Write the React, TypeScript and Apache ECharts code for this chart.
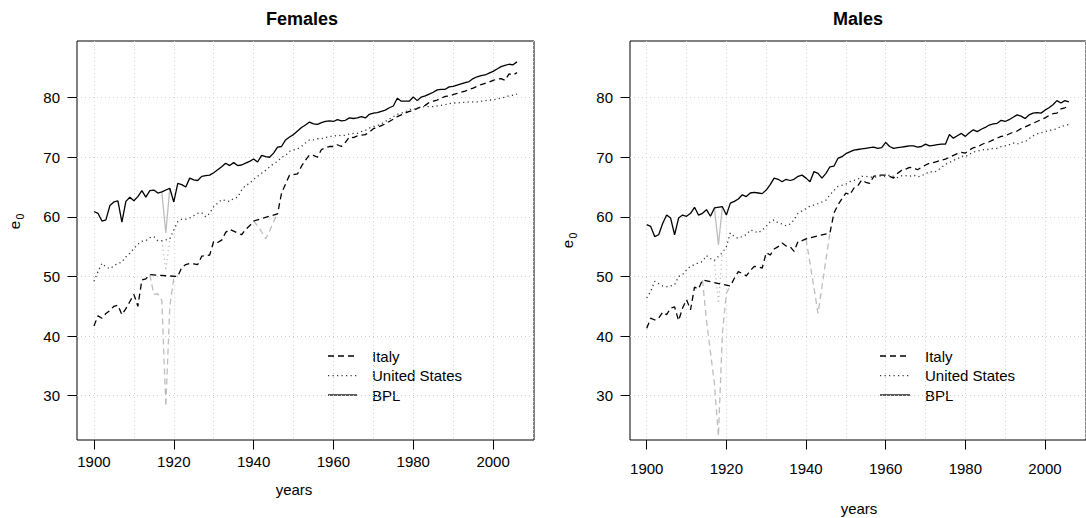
import React, { useEffect, useRef } from "react";
import * as echarts from "echarts";

// ---------- data (life expectancy at birth, 1900-2006) ----------
const startYear = 1900;

const femaleItaly = [
  41.7, 43.4, 43.0, 43.8, 44.3, 45.0, 45.2, 43.6, 44.6, 45.8,
  47.0, 45.0, 49.4, 49.6, 50.3, 47.0, 47.1, 46.0, 28.2, 45.0,
  49.7, 50.0, 51.5, 52.0, 52.2, 52.1, 52.0, 53.4, 53.5, 53.6,
  55.9, 55.7, 56.1, 57.4, 57.9, 57.6, 57.3, 57.0, 57.9, 58.5,
  59.3, 58.5, 57.5, 56.3, 57.6, 59.2, 60.5, 64.0, 65.5, 67.0,
  67.1, 67.2, 68.5, 69.5, 70.4, 70.3, 70.0, 71.3, 71.6, 71.8,
  71.8, 72.1, 71.8, 72.5, 73.4, 73.3, 73.6, 73.7, 73.8, 74.2,
  74.8, 75.0, 75.3, 75.6, 76.0, 76.4, 76.8, 77.1, 77.4, 77.7,
  77.8, 78.2, 78.5, 78.7, 79.2, 79.4, 79.6, 79.9, 80.2, 80.3,
  80.5, 80.7, 80.9, 81.1, 81.4, 81.6, 81.9, 82.2, 82.4, 82.6,
  82.9, 83.1, 83.2, 82.9, 84.0, 83.8, 84.2,
];
const femaleUS = [
  49.2, 50.8, 52.2, 51.6, 51.3, 51.8, 52.2, 52.4, 53.3, 53.9,
  54.7, 55.4, 55.9, 56.0, 56.5, 56.7, 56.0, 56.0, 51.0, 56.3,
  57.8, 59.2, 59.6, 59.6, 59.8, 60.2, 60.6, 60.7, 60.0, 60.6,
  61.7, 62.3, 62.9, 62.7, 62.6, 63.1, 63.3, 64.5, 65.3, 65.6,
  66.3, 66.8, 67.3, 67.8, 68.4, 68.9, 69.3, 70.0, 70.3, 71.0,
  71.2, 71.4, 71.8, 72.4, 72.9, 72.9, 73.1, 73.1, 73.3, 73.5,
  73.5, 73.7, 73.6, 73.7, 73.9, 74.0, 74.0, 74.3, 74.5, 74.9,
  75.1, 75.3, 75.6, 76.0, 76.4, 76.8, 77.2, 77.4, 77.6, 78.0,
  78.1, 78.2, 78.4, 78.5, 78.5, 78.5, 78.6, 78.7, 78.8, 79.0,
  79.1, 79.1, 79.2, 79.2, 79.3, 79.3, 79.3, 79.4, 79.5, 79.6,
  79.6, 79.8, 79.9, 80.1, 80.3, 80.4, 80.6,
];
const femaleBPL = [
  60.9, 60.6, 59.3, 59.5, 61.9, 62.5, 62.7, 59.1, 62.6, 63.3,
  62.7, 63.4, 64.4, 63.3, 64.4, 64.5, 64.0, 64.2, 57.3, 64.8,
  62.5, 65.6, 65.4, 65.0, 66.5, 66.2, 66.1, 66.8, 66.9, 67.0,
  67.4, 67.9, 68.4, 69.0, 68.6, 69.1, 68.6, 68.7, 69.0, 69.3,
  69.7, 69.2, 70.3, 70.1, 70.0, 70.7, 71.7, 71.8, 72.9, 73.4,
  73.8, 74.4, 75.0, 75.4, 75.9, 75.6, 75.5, 75.8, 76.0, 76.1,
  76.0, 76.3, 76.1, 76.2, 76.6, 76.5, 76.6, 76.8, 76.6, 77.2,
  77.4, 77.5, 77.7, 77.9, 78.3, 78.6, 79.9, 79.4, 79.4, 79.4,
  80.1, 79.5, 80.1, 80.3, 80.6, 80.9, 81.3, 81.4, 81.4, 81.8,
  81.9, 82.1, 82.3, 82.5, 82.7, 83.2, 83.5, 83.7, 83.8, 84.1,
  84.4, 84.8, 85.2, 85.4, 85.6, 85.5, 86.0,
];
const maleItaly = [
  41.3, 43.0, 42.7, 43.0, 44.0, 43.6, 44.7, 44.9, 42.6, 44.7,
  46.1, 44.4, 48.2, 47.9, 49.4, 42.7, 37.3, 32.0, 23.2, 40.5,
  47.2, 48.4, 49.7, 50.8, 50.5, 50.1, 51.0, 51.7, 51.6, 51.4,
  54.0, 53.6, 54.6, 55.0, 55.6, 55.1, 55.0, 54.2, 55.9, 56.0,
  56.3, 52.2, 48.1, 43.8, 48.3, 52.8, 57.3, 60.6, 62.0, 63.0,
  64.0, 63.7, 64.8, 65.2, 66.2, 65.8, 65.6, 66.8, 67.0, 67.0,
  67.0, 66.8, 66.5, 67.3, 67.8, 68.0, 68.3, 68.2, 67.9, 68.3,
  68.7, 69.0, 69.1, 69.3, 69.5, 69.7, 70.0, 70.3, 70.6, 70.8,
  70.7, 71.2, 71.6, 71.7, 72.1, 72.4, 72.6, 72.9, 73.2, 73.5,
  73.6, 73.9, 74.2, 74.4, 74.8, 75.1, 75.4, 75.7, 76.0, 76.3,
  76.6, 77.0, 77.3, 77.4, 78.1, 78.3, 78.6,
];
const maleUS = [
  46.4, 47.5, 49.2, 48.8, 48.4, 48.3, 48.4, 48.6, 50.0, 50.3,
  51.1, 51.7, 52.0, 52.3, 52.5, 53.5, 53.0, 52.7, 45.5, 54.0,
  55.0, 57.3, 56.7, 56.4, 56.7, 57.0, 57.8, 57.6, 57.3, 57.8,
  58.4, 59.2, 59.5, 59.0, 58.8, 58.5, 58.8, 59.5, 60.6, 61.0,
  61.4, 61.8, 62.0, 62.2, 62.5, 62.8, 63.7, 64.4, 65.1, 65.3,
  65.5, 65.9, 66.1, 66.3, 66.8, 66.8, 66.7, 66.6, 66.8, 66.9,
  66.8, 67.0, 66.8, 66.6, 66.9, 66.9, 66.8, 67.0, 66.7, 66.9,
  67.2, 67.6, 67.5, 67.7, 68.3, 68.8, 69.1, 69.5, 69.7, 70.2,
  70.1, 70.5, 70.9, 71.0, 71.2, 71.3, 71.3, 71.5, 71.5, 71.8,
  71.9, 72.1, 72.4, 72.2, 72.5, 72.6, 73.1, 73.6, 73.9, 74.1,
  74.3, 74.5, 74.6, 74.8, 75.2, 75.3, 75.5,
];
const maleBPL = [
  58.7, 58.4, 56.7, 57.0, 58.9, 60.3, 59.8, 57.0, 59.8, 60.3,
  60.1, 60.6, 61.6, 60.3, 60.6, 61.2, 60.1, 61.5, 55.3, 61.7,
  60.3, 62.3, 62.6, 63.0, 63.7, 63.4, 64.0, 64.1, 64.0, 63.9,
  64.5, 65.4, 66.5, 66.3, 65.9, 66.3, 66.1, 66.3, 66.8, 67.0,
  66.5, 65.9, 67.6, 67.3, 66.5, 67.3, 68.4, 68.5, 69.8, 70.1,
  70.6, 70.9, 71.2, 71.3, 71.4, 71.5, 71.6, 71.7, 71.5, 71.6,
  72.5, 71.8, 71.5, 71.6, 71.7, 71.8, 71.9, 71.9, 71.7, 71.8,
  72.2, 71.9, 72.0, 72.1, 72.2, 72.2, 73.8, 73.2, 73.6, 74.0,
  73.5, 74.1, 74.6, 74.3, 74.7, 75.0, 75.4, 75.6, 75.7, 76.2,
  76.0, 76.3, 76.7, 77.1, 76.9, 76.5, 77.1, 77.4, 77.5, 77.4,
  77.9, 78.3, 78.8, 79.5, 79.1, 79.5, 79.3,
];

// war years drawn in grey (excluded from the black line)
const italyWarGaps = [[1915, 1920], [1941, 1945]];
const usWarGaps = [[1918, 1918]];
const bplWarGaps = [[1918, 1918]];

const xTickYears = [1900, 1920, 1940, 1960, 1980, 2000];
const xGridYears = [1900, 1910, 1920, 1930, 1940, 1950, 1960, 1970, 1980, 1990, 2000, 2010];
const yTicks = [30, 40, 50, 60, 70, 80];
const seriesNames = ["Italy", "United States", "BPL"];
const panelTitles = ["Females", "Males"];

// ---------- helpers ----------
const FONT = "'Liberation Sans', Arial, Helvetica, sans-serif";
const toPairs = (vals: number[]) => vals.map((v, i) => [startYear + i, v]);
const inGap = (y: number, gaps: number[][]) => gaps.some(([a, b]) => y >= a && y <= b);
const mainPart = (vals: number[], gaps: number[][]) =>
  toPairs(vals).filter(([y]) => !inGap(y, gaps));
const greyParts = (vals: number[], gaps: number[][]) =>
  gaps.map(([a, b]) => toPairs(vals).filter(([y]) => y >= a - 1 && y <= b + 1));

const dashStyles: any[] = [[6, 4], [1.2, 3.3], "solid"];
const lineColors = ["#000", "#333", "#000"];
const GREY = "#bdbdbd";
const LW = 1.3;

export default function App() {
  const ref = useRef<HTMLDivElement>(null);

  useEffect(() => {
    if (!ref.current) return;
    const chart = echarts.init(ref.current, null, { renderer: "svg" });

    const panels = [
      { data: [femaleItaly, femaleUS, femaleBPL], left: 77, width: 457, min: 1895.75, max: 2010.25, labelMargin: 14 },
      { data: [maleItaly, maleUS, maleBPL], left: 630, width: 458, min: 1895.8, max: 2010.3, labelMargin: 21 },
    ];
    const gapsFor = [italyWarGaps, usWarGaps, bplWarGaps];

    const grid: any[] = [];
    const xAxis: any[] = [];
    const yAxis: any[] = [];
    const series: any[] = [];

    const gridLine = { show: true, lineStyle: { color: "#d0d0d0", type: [1, 3], width: 1 } };

    panels.forEach((p, g) => {
      grid.push({
        left: p.left, top: 41, width: p.width, height: 399,
        show: true, borderColor: "#000", borderWidth: 1, backgroundColor: "transparent",
      });
      xAxis.push({
        type: "value", gridIndex: g, min: p.min, max: p.max, position: "bottom",
        axisLine: { show: false },
        axisTick: { show: true, length: 9.5, customValues: xTickYears, lineStyle: { color: "#000", width: 1 } },
        axisLabel: {
          show: true, customValues: xTickYears, margin: p.labelMargin, fontSize: 15,
          color: "#000", fontFamily: FONT, formatter: (v: number) => String(v),
        },
        splitLine: { show: false },
      });
      xAxis.push({
        type: "value", gridIndex: g, min: p.min, max: p.max, position: "bottom",
        axisLine: { show: false },
        axisTick: { show: false, customValues: xGridYears },
        axisLabel: { show: false },
        splitLine: gridLine,
      });
      yAxis.push({
        type: "value", gridIndex: g, min: 22.57, max: 89.5,
        axisLine: { show: false },
        axisTick: { show: true, length: 9.5, customValues: yTicks, lineStyle: { color: "#000", width: 1 } },
        axisLabel: { show: true, customValues: yTicks, margin: 17, fontSize: 15, color: "#000", fontFamily: FONT },
        splitLine: gridLine,
      });

      // grey war segments first
      p.data.forEach((vals, k) => {
        greyParts(vals, gapsFor[k]).forEach((seg) => {
          series.push({
            type: "line", xAxisIndex: 2 * g, yAxisIndex: g, data: seg, showSymbol: false, symbol: "none",
            silent: true, z: 2,
            lineStyle: { color: GREY, width: LW, type: dashStyles[k] },
          });
        });
      });
      // black main lines
      p.data.forEach((vals, k) => {
        series.push({
          name: seriesNames[k],
          type: "line", xAxisIndex: 2 * g, yAxisIndex: g, data: mainPart(vals, gapsFor[k]),
          showSymbol: false, symbol: "none", silent: true, z: 3,
          lineStyle: { color: lineColors[k], width: LW, type: dashStyles[k] },
        });
      });
    });

    const txt = (x: number, y: number, text: string, size: number, extra: any = {}, rot = 0) => ({
      type: "text", x, y, rotation: rot, silent: true,
      style: {
        text, fontSize: size, fontFamily: FONT, fill: "#000",
        align: extra.align || "center", verticalAlign: "middle",
        textAlign: extra.align || "center", textVerticalAlign: "middle",
        fontWeight: extra.fontWeight || "normal",
      },
    });

    const graphic: any[] = [];
    // titles
    graphic.push(txt(302, 19, panelTitles[0], 18, { fontWeight: "bold" }));
    graphic.push(txt(858, 19, panelTitles[1], 18, { fontWeight: "bold" }));
    // x-axis names
    graphic.push(txt(294, 489, "years", 15));
    graphic.push(txt(859, 508, "years", 15));
    // y-axis names e0 (rotated, with subscript)
    graphic.push(txt(14, 225, "e", 15, {}, Math.PI / 2));
    graphic.push(txt(19.5, 216.5, "0", 10.5, {}, Math.PI / 2));
    graphic.push(txt(567, 244, "e", 15, {}, Math.PI / 2));
    graphic.push(txt(572.5, 235.5, "0", 10.5, {}, Math.PI / 2));

    // legends
    const legendSpecs = [
      { x1: 328, x2: 357, tx: 372 },
      { x1: 880, x2: 910, tx: 925 },
    ];
    const rowY = [356, 375.7, 395];
    legendSpecs.forEach((l) => {
      seriesNames.forEach((name, k) => {
        graphic.push({
          type: "line", silent: true,
          shape: { x1: l.x1, y1: rowY[k], x2: l.x2, y2: rowY[k] },
          style: { stroke: lineColors[k], lineWidth: LW, lineDash: k === 2 ? null : dashStyles[k] },
        });
        graphic.push(txt(l.tx, rowY[k], name, 15, { align: "left" }));
      });
    });

    chart.setOption({
      animation: false,
      backgroundColor: "#fff",
      grid, xAxis, yAxis, series, graphic,
    });

    return () => chart.dispose();
  }, []);

  return (
    <div
      ref={ref}
      style={{ position: "absolute", left: 0, top: 0, width: 1086, height: 518, background: "#fff" }}
    />
  );
}
